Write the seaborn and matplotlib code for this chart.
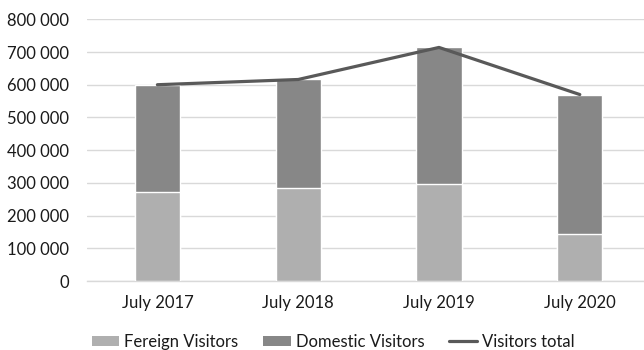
import matplotlib
matplotlib.use("Agg")
import matplotlib.pyplot as plt
import seaborn as sns
import numpy as np
import pandas as pd
from matplotlib.patches import Patch
from matplotlib.lines import Line2D
from matplotlib.ticker import FuncFormatter

categories = ["July 2017", "July 2018", "July 2019", "July 2020"]
foreign = [271000, 283000, 298000, 145000]
domestic = [329000, 333000, 416000, 425000]
series_names = ["Fereign Visitors", "Domestic Visitors", "Visitors total"]

total = [f + d for f, d in zip(foreign, domestic)]
df = pd.DataFrame({"cat": categories, "foreign": foreign, "total": total})

sns.set_theme(style="white")
plt.rcParams['font.family'] = ['Lato', 'DejaVu Sans']

c_foreign = "#afafaf"
c_domestic = "#878787"
c_line = "#595959"
c_grid = "#d9d9d9"
c_text = "#1a1a1a"

fig = plt.figure(figsize=(6.44, 3.5), dpi=100)
ax_left, ax_right = 87, 644
y_top, y_zero = 19.3, 281.0
ax = fig.add_axes([ax_left/644, 1 - y_zero/350, (ax_right - ax_left)/644, (y_zero - y_top)/350])

sns.barplot(data=df, x="cat", y="total", color=c_domestic, saturation=1,
            width=0.32, ax=ax, zorder=2)
sns.barplot(data=df, x="cat", y="foreign", color=c_foreign, saturation=1,
            width=0.32, ax=ax, zorder=3)
sns.lineplot(x=np.arange(len(categories)), y=total, color=c_line, linewidth=2.3,
             ax=ax, zorder=4)

ax.set_ylim(0, 800000)
slot = 140.8
ax.set_xlim(-0.5, -0.5 + (ax_right - ax_left)/slot)
ax.set_yticks(np.arange(0, 800001, 100000))
ax.yaxis.set_major_formatter(FuncFormatter(lambda v, p: f"{int(v):,}".replace(",", " ")))
ax.set_xticks(range(len(categories)))
ax.set_xticklabels(categories)
ax.set_xlabel("")
ax.set_ylabel("")
ax.grid(axis="y", color=c_grid, linewidth=1, zorder=0)
ax.set_axisbelow(True)
for s in ["top", "right", "left"]:
    ax.spines[s].set_visible(False)
ax.spines["bottom"].set_color(c_grid)
ax.spines["bottom"].set_linewidth(1)
ax.tick_params(axis="both", length=0, labelsize=12, colors=c_text)
ax.tick_params(axis="y", pad=13)
ax.tick_params(axis="x", pad=10)

handles = [Patch(facecolor=c_foreign, edgecolor="none"),
           Patch(facecolor=c_domestic, edgecolor="none"),
           Line2D([0], [0], color=c_line, linewidth=2.3)]
leg = fig.legend(handles, series_names, loc="center", ncol=3, frameon=False,
                 bbox_to_anchor=(333/644, 1 - 341.7/350), fontsize=12,
                 handlelength=1.65, handleheight=0.55, handletextpad=0.3,
                 columnspacing=1.5, borderaxespad=0, borderpad=0)
for t in leg.get_texts():
    t.set_color(c_text)

fig.savefig("out.png", dpi=100)
